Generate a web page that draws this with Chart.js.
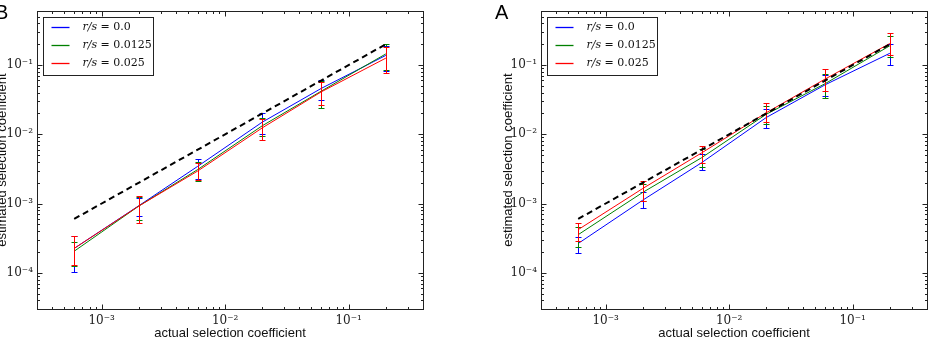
<!DOCTYPE html>
<html>
<head>
<meta charset="utf-8">
<script src="https://cdn.jsdelivr.net/npm/chart.js@4.4.0/dist/chart.umd.min.js"></script>
<style>
    html, body { margin: 0; padding: 0; background: #ffffff; }
    #wrap { position: relative; width: 932px; height: 346px; overflow: hidden; }
    .panel { position: absolute; top: 0; width: 466px; height: 346px; }
</style>
</head>
<body>
<div id="wrap">
    <div class="panel" style="left:0"><canvas id="chartB" width="466" height="346"></canvas></div>
    <div class="panel" style="left:466px"><canvas id="chartA" width="466" height="346"></canvas></div>
</div>
<script>
// actual selection coefficients (x) and the y = x reference line
const actualS = [6e-4, 2e-3, 6e-3, 2e-2, 6e-2, 2e-1];
const identityX = [6e-4, 2e-1];
const identityY = [6e-4, 2e-1];

const ratioLabels = ["0.0", "0.0125", "0.025"];
const xTickValues = [1e-3, 1e-2, 1e-1];
const xTickLabels = ["10\u207B\u00B3", "10\u207B\u00B2", "10\u207B\u00B9"];
const yTickValues = [1e-4, 1e-3, 1e-2, 1e-1];
const yTickLabels = ["10\u207B\u2074", "10\u207B\u00B3", "10\u207B\u00B2", "10\u207B\u00B9"];

// panel B
const bBlue = [2.25e-4, 9.3e-4, 3.45e-3, 1.5e-2, 4.6e-2, 0.138];
const bBlueLo = [1.02e-4, 6.7e-4, 2.3e-3, 1.0e-2, 3.1e-2, 8.2e-2];
const bBlueHi = [3.45e-4, 1.22e-3, 4.4e-3, 2.0e-2, 6.1e-2, 0.19];
const bGreen = [2.05e-4, 9.2e-4, 3.1e-3, 1.33e-2, 4.2e-2, 0.145];
const bGreenLo = [1.24e-4, 5.8e-4, 2.1e-3, 9.5e-3, 2.4e-2, 8.5e-2];
const bGreenHi = [2.75e-4, 1.25e-3, 4.0e-3, 1.7e-2, 5.9e-2, 0.2];
const bRed = [2.25e-4, 9.2e-4, 2.95e-3, 1.24e-2, 4.1e-2, 0.126];
const bRedLo = [1.3e-4, 5.3e-4, 2.2e-3, 8.3e-3, 2.65e-2, 7.7e-2];
const bRedHi = [3.4e-4, 1.3e-3, 3.9e-3, 1.65e-2, 5.7e-2, 0.185];

// panel A
const aBlue = [2.65e-4, 1.12e-3, 3.9e-3, 1.75e-2, 5.2e-2, 0.148];
const aBlueLo = [1.9e-4, 8.5e-4, 3.1e-3, 1.25e-2, 3.6e-2, 0.1];
const aBlueHi = [3.3e-4, 1.45e-3, 5.2e-3, 2.3e-2, 7.2e-2, 0.2];
const aGreen = [3.55e-4, 1.45e-3, 4.6e-3, 1.95e-2, 5.4e-2, 0.19];
const aGreenLo = [2.35e-4, 1.1e-3, 3.4e-3, 1.4e-2, 3.4e-2, 0.13];
const aGreenHi = [4.6e-4, 1.9e-3, 6.2e-3, 2.6e-2, 7.5e-2, 0.26];
const aRed = [4.2e-4, 1.65e-3, 5.4e-3, 2.05e-2, 6.3e-2, 0.205];
const aRedLo = [2.9e-4, 1.1e-3, 3.9e-3, 1.5e-2, 4.2e-2, 0.14];
const aRedHi = [5.3e-4, 2.1e-3, 6.8e-3, 2.8e-2, 8.7e-2, 0.29];

const COLORS = ["#0000ff", "#008000", "#ff0000"];

function points(xs, ys) {
    return xs.map((x, i) => ({ x: x, y: ys[i] }));
}

function seriesDataset(idx, values, lo, hi) {
    return {
        label: "r/s = " + ratioLabels[idx],
        ratio: ratioLabels[idx],
        data: points(actualS, values),
        errLo: lo,
        errHi: hi,
        borderColor: COLORS[idx],
        borderWidth: 1,
        pointRadius: 0,
        tension: 0,
        order: 3 - idx,
    };
}

// error bars, drawn right after each dataset so stacking matches
const errorBarPlugin = {
    id: "errorBars",
    afterDatasetDraw(chart, args) {
        const ds = chart.data.datasets[args.index];
        if (!ds.errLo) return;
        const xs = chart.scales.x;
        const ys = chart.scales.y;
        const ctx = chart.ctx;
        ctx.save();
        ctx.strokeStyle = ds.borderColor;
        ctx.lineWidth = 1;
        ds.data.forEach((p, i) => {
            const px = Math.round(xs.getPixelForValue(p.x)) + 0.5;
            const y1 = Math.round(ys.getPixelForValue(ds.errLo[i])) + 0.5;
            const y2 = Math.round(ys.getPixelForValue(ds.errHi[i])) + 0.5;
            ctx.beginPath();
            ctx.moveTo(px, y1);
            ctx.lineTo(px, y2);
            ctx.moveTo(px - 3, y1);
            ctx.lineTo(px + 3, y1);
            ctx.moveTo(px - 3, y2);
            ctx.lineTo(px + 3, y2);
            ctx.stroke();
        });
        ctx.restore();
    },
};

// frame, inward ticks on all sides, boxed legend and panel letter
const framePlugin = {
    id: "frame",
    afterDraw(chart, args, opts) {
        const ctx = chart.ctx;
        const area = chart.chartArea;
        const xs = chart.scales.x;
        const ys = chart.scales.y;
        ctx.save();
        ctx.strokeStyle = "#222222";
        ctx.lineWidth = 1;

        const L = Math.round(area.left) + 0.5;
        const R = Math.round(area.right) + 0.5;
        const T = Math.round(area.top) + 0.5;
        const B = Math.round(area.bottom) + 0.5;
        ctx.strokeRect(L, T, R - L, B - T);

        ctx.beginPath();
        logTicks(xs.min, xs.max).forEach(t => {
            const px = Math.round(xs.getPixelForValue(t.v)) + 0.5;
            const len = t.major ? 5 : 2.5;
            ctx.moveTo(px, B); ctx.lineTo(px, B - len);
            ctx.moveTo(px, T); ctx.lineTo(px, T + len);
        });
        logTicks(ys.min, ys.max).forEach(t => {
            const py = Math.round(ys.getPixelForValue(t.v)) + 0.5;
            const len = t.major ? 5 : 2.5;
            ctx.moveTo(L, py); ctx.lineTo(L + len, py);
            ctx.moveTo(R, py); ctx.lineTo(R - len, py);
        });
        ctx.stroke();

        // legend box
        const bx = Math.round(area.left) + 6.5;
        const by = Math.round(area.top) + 6.5;
        ctx.fillStyle = "#ffffff";
        ctx.fillRect(bx, by, 110, 58);
        ctx.strokeStyle = "#222222";
        ctx.strokeRect(bx, by, 110, 58);
        const entries = chart.data.datasets.filter(d => d.ratio !== undefined)
            .sort((a, b) => b.order - a.order);
        entries.forEach((d, i) => {
            const ry = by + 10 + i * 18;
            ctx.strokeStyle = d.borderColor;
            ctx.lineWidth = 1.3;
            ctx.beginPath();
            ctx.moveTo(bx + 8, ry);
            ctx.lineTo(bx + 26, ry);
            ctx.stroke();
            ctx.fillStyle = "#111111";
            ctx.textBaseline = "middle";
            ctx.font = "italic 11px 'DejaVu Serif'";
            const tx = bx + 39;
            ctx.fillText("r/s", tx, ry);
            const w = ctx.measureText("r/s").width;
            ctx.font = "11px 'DejaVu Serif'";
            ctx.fillText(" = " + d.ratio, tx + w, ry);
        });

        // panel letter
        ctx.fillStyle = "#000000";
        ctx.textBaseline = "alphabetic";
        ctx.font = "20px 'Liberation Sans'";
        ctx.fillText(opts.letter, opts.letterX, 19);
        ctx.restore();
    },
};

function logTicks(min, max) {
    const out = [];
    for (let k = Math.floor(Math.log10(min)); k <= Math.ceil(Math.log10(max)); k++) {
        for (let m = 1; m <= 9; m++) {
            const v = m * Math.pow(10, k);
            if (v >= min && v <= max) out.push({ v: v, major: m === 1 });
        }
    }
    return out;
}

function makePanel(canvasId, panel) {
    const datasets = [
        {
            label: "y = x",
            data: points(identityX, identityY),
            borderColor: "#000000",
            borderWidth: 2,
            borderDash: [6, 4],
            pointRadius: 0,
            order: 0,
        },
        seriesDataset(0, panel.blue, panel.blueLo, panel.blueHi),
        seriesDataset(1, panel.green, panel.greenLo, panel.greenHi),
        seriesDataset(2, panel.red, panel.redLo, panel.redHi),
    ];

    return new Chart(document.getElementById(canvasId), {
        type: "line",
        data: { datasets: datasets },
        plugins: [errorBarPlugin, framePlugin],
        options: {
            responsive: false,
            animation: false,
            devicePixelRatio: 1,
            layout: {
                padding: { top: 10, right: panel.padRight, bottom: 0, left: 0 },
            },
            plugins: {
                legend: { display: false },
                tooltip: { enabled: false },
                frame: { letter: panel.letter, letterX: panel.letterX },
            },
            scales: {
                x: {
                    type: "logarithmic",
                    position: "bottom",
                    min: 3e-4,
                    max: 0.4,
                    afterBuildTicks: s => { s.ticks = xTickValues.map(v => ({ value: v })); },
                    afterFit: s => { s.height = 37; },
                    grid: { display: false, drawTicks: false },
                    border: { display: false },
                    ticks: {
                        callback: (v, i) => xTickLabels[i],
                        autoSkip: false,
                        maxRotation: 0,
                        padding: 5,
                        color: "#222222",
                        font: { family: "DejaVu Serif", size: 12 },
                    },
                    title: {
                        display: true,
                        text: "actual selection coefficient",
                        color: "#111111",
                        font: { family: "Liberation Sans", size: 13 },
                        padding: { top: 0, bottom: 5 },
                    },
                },
                y: {
                    type: "logarithmic",
                    position: "left",
                    min: 3e-5,
                    max: 0.6,
                    afterBuildTicks: s => { s.ticks = yTickValues.map(v => ({ value: v })); },
                    afterFit: s => { s.width = panel.yAxisWidth; },
                    grid: { display: false, drawTicks: false },
                    border: { display: false },
                    ticks: {
                        callback: (v, i) => yTickLabels[i],
                        autoSkip: false,
                        padding: 4,
                        color: "#222222",
                        font: { family: "DejaVu Serif", size: 12 },
                    },
                    title: {
                        display: true,
                        text: "estimated selection coefficient",
                        color: "#111111",
                        font: { family: "Liberation Sans", size: 13 },
                        padding: { top: panel.yTitlePad, bottom: 0 },
                    },
                },
            },
        },
    });
}

makePanel("chartB", {
    letter: "B", letterX: -5, padRight: 43, yAxisWidth: 37, yTitlePad: -5.8,
    blue: bBlue, blueLo: bBlueLo, blueHi: bBlueHi,
    green: bGreen, greenLo: bGreenLo, greenHi: bGreenHi,
    red: bRed, redLo: bRedLo, redHi: bRedHi,
});

makePanel("chartA", {
    letter: "A", letterX: 29, padRight: 5, yAxisWidth: 75, yTitlePad: 34.2,
    blue: aBlue, blueLo: aBlueLo, blueHi: aBlueHi,
    green: aGreen, greenLo: aGreenLo, greenHi: aGreenHi,
    red: aRed, redLo: aRedLo, redHi: aRedHi,
});
</script>
</body>
</html>
